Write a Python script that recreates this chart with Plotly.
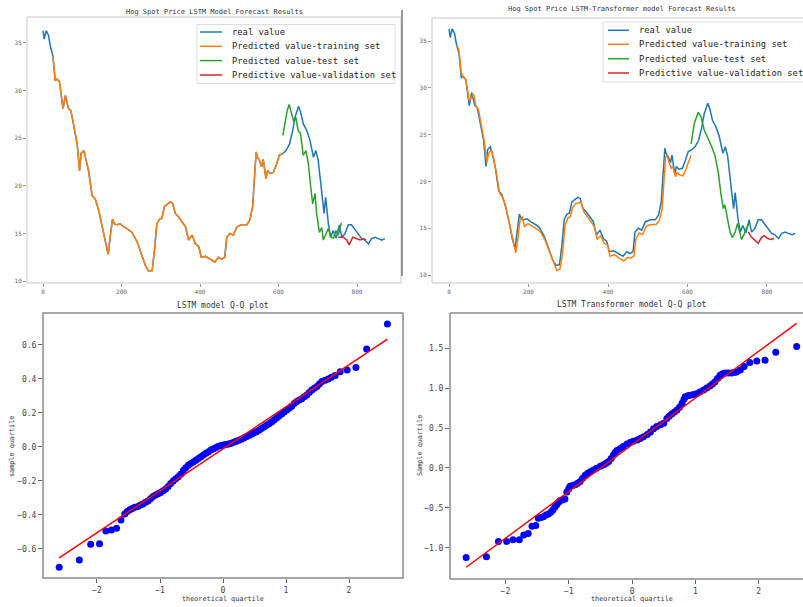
import plotly.graph_objects as go

W, H = 803, 607

# ---------------- data ----------------
real_x = [0, 3, 8, 14, 19, 25, 31, 36, 42, 51, 57, 65, 71, 78, 87, 93, 97, 104, 110, 116,
          125, 133, 142, 153, 159, 166, 171, 177, 182, 188, 197, 205, 214, 227, 240, 252,
          261, 269, 278, 284, 290, 297, 303, 309, 316, 324, 330, 337, 346, 354, 363, 371,
          380, 388, 397, 403, 414, 426, 438, 447, 455, 463, 468, 476, 485, 494, 506, 519,
          527, 534, 538, 543, 546, 551, 557, 561, 568, 572, 578, 587, 595, 602, 611, 619,
          628, 636, 642, 651, 656, 663, 672, 680, 689, 695, 701, 710, 716, 720, 727, 733,
          739, 747, 755, 761, 769, 778, 786, 795, 803, 812, 820, 829, 837, 846, 854, 863, 871]
real_y = [36.3, 35.4, 36.3, 35.8, 34.6, 33.7, 31.1, 31.2, 30.9, 28.1, 29.5, 28.1, 27.9, 26.5,
          24.4, 21.6, 23.4, 23.7, 22.8, 21.6, 19.0, 18.6, 17.4, 15.3, 13.9, 12.8, 14.6, 16.5,
          16.0, 15.9, 16.0, 15.7, 15.5, 15.1, 14.1, 12.7, 11.6, 11.05, 11.1, 13.2, 16.0, 16.5,
          16.6, 17.8, 18.0, 18.3, 18.2, 17.1, 16.7, 16.2, 15.7, 14.3, 14.8, 13.9, 13.6, 12.5,
          12.6, 12.3, 12.0, 12.5, 12.3, 12.5, 14.6, 15.0, 14.8, 15.7, 15.9, 15.9, 16.4, 17.8,
          20.9, 23.55, 23.0, 22.7, 22.0, 22.8, 20.75, 21.6, 21.3, 21.4, 22.3, 23.2, 23.4, 23.7,
          24.4, 25.8, 27.2, 28.35, 27.8, 26.5, 25.8, 24.8, 23.0, 23.7, 22.7, 19.5, 17.1, 18.8,
          16.0, 14.6, 15.3, 14.5, 15.9, 14.6, 14.95, 15.9, 15.9, 15.4, 15.0, 14.45, 14.3, 13.9,
          14.45, 14.6, 14.45, 14.3, 14.45]

lstm_train_x = [25, 31, 36, 42, 51, 57, 65, 71, 78, 87, 93, 97, 104, 110, 116, 125, 133, 142,
                153, 159, 166, 171, 177, 182, 188, 197, 205, 214, 227, 240, 252, 261, 269, 278,
                284, 290, 297, 303, 309, 316, 324, 330, 337, 346, 354, 363, 371, 380, 388, 397,
                403, 414, 426, 438, 447, 455, 463, 468, 476, 485, 494, 506, 519, 527, 534, 538,
                543, 546, 551, 557, 561, 568, 572, 578, 587, 595, 602, 611]
lstm_train_y = [33.7, 31.1, 31.2, 30.9, 28.1, 29.5, 28.1, 27.9, 26.5, 24.4, 21.6, 23.4, 23.7,
                22.8, 21.6, 19.0, 18.6, 17.4, 15.3, 13.9, 12.8, 14.6, 16.5, 16.0, 15.9, 16.0,
                15.7, 15.5, 15.1, 14.1, 12.7, 11.6, 11.05, 11.1, 13.2, 16.0, 16.5, 16.6, 17.8,
                18.0, 18.3, 18.2, 17.1, 16.7, 16.2, 15.7, 14.3, 14.8, 13.9, 13.6, 12.5, 12.6,
                12.3, 12.0, 12.5, 12.3, 12.5, 14.6, 15.0, 14.8, 15.7, 15.9, 15.9, 16.4, 17.8,
                20.9, 23.55, 23.0, 22.7, 22.0, 22.8, 20.75, 21.6, 21.3, 21.4, 22.3, 23.2, 23.4]
lstm_test_x = [611, 616, 622, 627, 634, 639, 644, 650, 656, 663, 670, 676, 682, 687, 693, 697,
               704, 710, 714, 721, 727, 733, 740, 746, 752, 760]
lstm_test_y = [25.3, 26.5, 27.9, 28.55, 27.6, 26.7, 27.2, 25.8, 25.5, 23.2, 23.7, 22.3, 19.9,
               18.1, 19.2, 17.1, 15.1, 15.6, 14.3, 15.0, 15.5, 14.6, 14.5, 15.3, 14.8, 16.1]
lstm_val_x = [752, 765, 774, 780, 789, 799, 808, 816, 823]
lstm_val_y = [14.6, 14.6, 14.3, 13.8, 14.6, 14.45, 14.3, 14.45, 14.3]

trans_train_x = [20, 25, 31, 36, 42, 51, 57, 62, 68, 74, 80, 89, 95, 100, 106, 112, 118, 127,
                 135, 144, 155, 161, 168, 173, 179, 184, 190, 199, 207, 216, 229, 242, 254, 263,
                 271, 279, 286, 292, 299, 305, 311, 318, 326, 332, 339, 348, 356, 365, 373, 382,
                 390, 399, 405, 416, 428, 440, 449, 457, 465, 470, 478, 487, 496, 508, 521, 529,
                 536, 540, 545, 549, 553, 559, 563, 570, 574, 580, 589, 597, 604, 609]
trans_train_y = [34.6, 34.0, 31.6, 31.1, 30.9, 28.6, 29.0, 29.3, 28.0, 27.7, 26.3, 24.2, 22.0,
                 23.0, 23.4, 22.5, 21.2, 18.8, 18.3, 17.0, 14.9, 13.6, 12.4, 13.8, 16.0, 16.2,
                 15.2, 15.5, 15.3, 15.1, 14.7, 13.7, 12.3, 11.2, 10.5, 10.6, 12.4, 15.3, 16.1,
                 16.2, 17.2, 17.6, 17.7, 17.8, 16.8, 16.2, 15.8, 15.2, 13.8, 14.2, 13.4, 13.2,
                 12.0, 12.2, 11.8, 11.5, 11.9, 11.8, 12.0, 13.8, 14.5, 14.3, 15.2, 15.4, 15.4,
                 15.8, 17.0, 19.5, 22.6, 22.8, 22.1, 21.4, 21.6, 20.5, 21.0, 20.7, 20.6, 21.4,
                 22.2, 22.8]
trans_test_x = [609, 617, 627, 634, 642, 652, 661, 669, 678, 684, 690, 694, 700, 707, 713, 720,
                726, 732, 736, 743, 749, 755]
trans_test_y = [24.0, 26.2, 27.4, 26.9, 25.5, 24.6, 23.7, 22.8, 20.8, 18.7, 17.1, 17.5, 16.2,
                14.6, 14.0, 14.6, 15.5, 14.6, 13.8, 14.4, 15.1, 15.5]
trans_val_x = [753, 761, 770, 778, 787, 793, 802, 810, 818]
trans_val_y = [14.6, 14.05, 13.7, 13.4, 14.05, 14.2, 13.9, 13.8, 13.9]

series_names = ["real value", "Predicted value-training set",
                "Predicted value-test set", "Predictive value-validation set"]

qq_lstm_theo = [-2.60, -2.28, -2.10, -1.96, -1.86, -1.77, -1.69, -1.62, -1.56, -1.52, -1.48,
                -1.44, -1.40, -1.35, -1.31, -1.27, -1.23, -1.19, -1.15, -1.11, -1.07, -1.03,
                -0.99, -0.95, -0.91, -0.87, -0.83, -0.79, -0.75, -0.71, -0.67, -0.63, -0.59,
                -0.55, -0.51, -0.47, -0.43, -0.39, -0.35, -0.31, -0.27, -0.23, -0.19, -0.15,
                -0.11, -0.07, -0.03, 0.01, 0.05, 0.09, 0.13, 0.17, 0.21, 0.25, 0.29, 0.33, 0.37,
                0.41, 0.45, 0.49, 0.53, 0.57, 0.61, 0.65, 0.69, 0.73, 0.77, 0.81, 0.85, 0.89,
                0.93, 0.97, 1.01, 1.05, 1.09, 1.13, 1.17, 1.21, 1.25, 1.29, 1.33, 1.37, 1.41,
                1.45, 1.49, 1.53, 1.57, 1.62, 1.67, 1.72, 1.78, 1.86, 1.97, 2.11, 2.28, 2.61]
qq_lstm_sample = [-0.708, -0.665, -0.573, -0.570, -0.494, -0.488, -0.478, -0.430, -0.394,
                  -0.380, -0.370, -0.362, -0.355, -0.350, -0.342, -0.335, -0.325, -0.318,
                  -0.305, -0.292, -0.283, -0.275, -0.268, -0.258, -0.247, -0.232, -0.215,
                  -0.200, -0.187, -0.175, -0.160, -0.138, -0.122, -0.108, -0.098, -0.088,
                  -0.078, -0.068, -0.058, -0.047, -0.037, -0.028, -0.018, -0.010, -0.003,
                  0.004, 0.008, 0.012, 0.015, 0.018, 0.022, 0.027, 0.033, 0.040, 0.046, 0.053,
                  0.060, 0.067, 0.074, 0.082, 0.090, 0.098, 0.108, 0.118, 0.127, 0.137, 0.147,
                  0.158, 0.170, 0.182, 0.194, 0.205, 0.217, 0.228, 0.240, 0.255, 0.268, 0.276,
                  0.283, 0.295, 0.306, 0.320, 0.335, 0.345, 0.355, 0.370, 0.385, 0.393, 0.400,
                  0.410, 0.420, 0.443, 0.453, 0.467, 0.576, 0.724]
qq_lstm_slope, qq_lstm_intercept = 0.247, -0.011

qq_trans_theo = [-2.62, -2.30, -2.11, -1.98, -1.88, -1.78, -1.71, -1.64, -1.58, -1.52, -1.48,
                 -1.44, -1.40, -1.36, -1.32, -1.28, -1.25, -1.22, -1.19, -1.16, -1.14, -1.10,
                 -1.06, -1.03, -1.00, -0.98, -0.94, -0.90, -0.86, -0.82, -0.78, -0.74, -0.70,
                 -0.66, -0.61, -0.56, -0.50, -0.45, -0.41, -0.37, -0.33, -0.295, -0.27, -0.24,
                 -0.19, -0.14, -0.08, -0.03, 0.02, 0.08, 0.13, 0.18, 0.24, 0.29, 0.34, 0.39,
                 0.45, 0.50, 0.55, 0.59, 0.63, 0.67, 0.71, 0.75, 0.79, 0.82, 0.84, 0.88, 0.92,
                 0.97, 1.02, 1.07, 1.13, 1.18, 1.23, 1.27, 1.31, 1.35, 1.39, 1.43, 1.47, 1.52,
                 1.57, 1.61, 1.65, 1.71, 1.77, 1.86, 1.97, 2.10, 2.27, 2.60]
qq_trans_sample = [-1.12, -1.11, -0.92, -0.92, -0.90, -0.90, -0.84, -0.82, -0.73, -0.72, -0.63,
                   -0.62, -0.61, -0.59, -0.575, -0.55, -0.525, -0.49, -0.46, -0.43, -0.41,
                   -0.40, -0.39, -0.30, -0.26, -0.23, -0.22, -0.21, -0.19, -0.17, -0.13, -0.09,
                   -0.065, -0.046, -0.025, -0.004, 0.02, 0.04, 0.06, 0.08, 0.12, 0.16, 0.19,
                   0.22, 0.24, 0.27, 0.30, 0.32, 0.335, 0.35, 0.37, 0.39, 0.42, 0.45, 0.49,
                   0.52, 0.54, 0.56, 0.62, 0.65, 0.68, 0.70, 0.725, 0.76, 0.81, 0.86, 0.89,
                   0.905, 0.91, 0.92, 0.93, 0.95, 0.975, 1.00, 1.025, 1.05, 1.08, 1.12, 1.16,
                   1.18, 1.19, 1.19, 1.19, 1.195, 1.20, 1.225, 1.27, 1.32, 1.34, 1.35, 1.45, 1.52]
qq_trans_slope, qq_trans_intercept = 0.585, 0.29

# ---------------- styling ----------------
BLUE, ORANGE, GREEN, RED = "#1f77b4", "#ff7f0e", "#2ca02c", "#d62728"
MONO = "DejaVu Sans Mono"


def px(x):
    return x / W


def py(y):
    return 1 - y / H


fig = go.Figure()

# top-left: LSTM
for xs, ys, c in [(real_x, real_y, BLUE), (lstm_train_x, lstm_train_y, ORANGE),
                  (lstm_test_x, lstm_test_y, GREEN), (lstm_val_x, lstm_val_y, RED)]:
    fig.add_trace(go.Scatter(x=xs, y=ys, mode="lines", line=dict(color=c, width=1.5),
                             xaxis="x", yaxis="y", showlegend=False, hoverinfo="skip"))
# top-right: LSTM-Transformer
for xs, ys, c in [(real_x, real_y, BLUE), (trans_train_x, trans_train_y, ORANGE),
                  (trans_test_x, trans_test_y, GREEN), (trans_val_x, trans_val_y, RED)]:
    fig.add_trace(go.Scatter(x=xs, y=ys, mode="lines", line=dict(color=c, width=1.5),
                             xaxis="x2", yaxis="y2", showlegend=False, hoverinfo="skip"))

# Q-Q plots
for theo, samp, slope, icpt, xa, ya in [
        (qq_lstm_theo, qq_lstm_sample, qq_lstm_slope, qq_lstm_intercept, "x3", "y3"),
        (qq_trans_theo, qq_trans_sample, qq_trans_slope, qq_trans_intercept, "x4", "y4")]:
    fig.add_trace(go.Scatter(x=theo, y=samp, mode="markers",
                             marker=dict(color="#0000ff", size=7, line=dict(width=0)),
                             xaxis=xa, yaxis=ya, showlegend=False))
    lx = [min(theo), max(theo)]
    fig.add_trace(go.Scatter(x=lx, y=[slope * v + icpt for v in lx], mode="lines",
                             line=dict(color="#ff0000", width=1.5),
                             xaxis=xa, yaxis=ya, showlegend=False))

top_tick = dict(showgrid=False, zeroline=False, showline=False, ticks="outside", ticklen=3,
                tickcolor="#999", tickwidth=1, tickfont=dict(family=MONO, size=6, color="#666"))
bot_tick = dict(showgrid=False, zeroline=False, showline=False, ticks="outside", ticklen=4,
                tickcolor="#666", tickwidth=1, tickfont=dict(family=MONO, size=8, color="#444"))

fig.update_layout(
    width=W, height=H, autosize=False,
    margin=dict(l=0, r=0, t=0, b=0, pad=0),
    paper_bgcolor="white", plot_bgcolor="white",
    xaxis=dict(domain=[px(27), px(401)], range=[-40.8, 912], anchor="y",
               tickvals=[0, 200, 400, 600, 800], **top_tick),
    yaxis=dict(domain=[py(283), py(17)], range=[9.79, 37.73], anchor="x",
               tickvals=[10, 15, 20, 25, 30, 35], **top_tick),
    xaxis2=dict(domain=[px(432), 1], range=[-42.8, 890.6], anchor="y2",
                tickvals=[0, 200, 400, 600, 800], **top_tick),
    yaxis2=dict(domain=[py(283), py(18)], range=[9.15, 37.46], anchor="x2",
                tickvals=[10, 15, 20, 25, 30, 35], **top_tick),
    xaxis3=dict(domain=[px(43), px(403)], range=[-2.857, 2.857], anchor="y3",
                tickvals=[-2, -1, 0, 1, 2], **bot_tick),
    yaxis3=dict(domain=[py(578), py(313)], range=[-0.771, 0.788], anchor="x3",
                tickvals=[-0.6, -0.4, -0.2, 0.0, 0.2, 0.4, 0.6], tickformat=".1f", **bot_tick),
    xaxis4=dict(domain=[px(450), 1], range=[-2.875, 2.70], anchor="y4",
                tickvals=[-2, -1, 0, 1, 2], **bot_tick),
    yaxis4=dict(domain=[py(579), py(313)], range=[-1.39, 1.94], anchor="x4",
                tickvals=[-1.0, -0.5, 0.0, 0.5, 1.0, 1.5], tickformat=".1f", **bot_tick),
)

shapes = []
# frames
shapes.append(dict(type="rect", xref="x domain", yref="y domain", x0=0, x1=1, y0=0, y1=1,
                   line=dict(color="#c8c8c8", width=1)))
shapes.append(dict(type="line", xref="paper", yref="paper", x0=px(402), x1=px(402),
                   y0=py(10), y1=py(276), line=dict(color="#777", width=1.5)))
for (a, b, c, d) in [(0, 0, 0, 1), (0, 1, 1, 1), (0, 0, 1, 0)]:
    shapes.append(dict(type="line", xref="x2 domain", yref="y2 domain", x0=a, y0=b, x1=c, y1=d,
                       line=dict(color="#c8c8c8", width=1)))
shapes.append(dict(type="rect", xref="x3 domain", yref="y3 domain", x0=0, x1=1, y0=0, y1=1,
                   line=dict(color="#8a8a8a", width=1.5)))
for (a, b, c, d) in [(0, 0, 0, 1), (0, 1, 1, 1), (0, 0, 1, 0)]:
    shapes.append(dict(type="line", xref="x4 domain", yref="y4 domain", x0=a, y0=b, x1=c, y1=d,
                       line=dict(color="#8a8a8a", width=1.5)))

annotations = []
colors = [BLUE, ORANGE, GREEN, RED]
# legends (drawn as boxes)
for bx0, bx1, by0, by1, lx0, lx1, tx, rows in [
        (197, 395, 24.5, 83.5, 200, 222, 230, [32, 46.3, 60.6, 75]),
        (603, 812, 22, 82, 608, 629, 637, [30.3, 44.3, 58.7, 73])]:
    shapes.append(dict(type="rect", xref="paper", yref="paper", x0=px(bx0), x1=px(bx1),
                       y0=py(by1), y1=py(by0), fillcolor="rgba(255,255,255,0.85)",
                       line=dict(color="#dddddd", width=1), layer="above"))
    for name, col, ry in zip(series_names, colors, rows):
        shapes.append(dict(type="line", xref="paper", yref="paper", x0=px(lx0), x1=px(lx1),
                           y0=py(ry), y1=py(ry), line=dict(color=col, width=1.5),
                           layer="above"))
        annotations.append(dict(text=name, xref="paper", yref="paper", x=px(tx), y=py(ry),
                                xanchor="left", yanchor="middle", showarrow=False,
                                font=dict(family=MONO, size=8.8, color="#222")))

# titles and labels
for text, x, y, size, angle in [
        ("Hog Spot Price LSTM Model Forecast Results", 214, 12, 7, 0),
        ("Hog Spot Price LSTM-Transformer model Forecast Results", 622, 9.5, 7, 0),
        ("LSTM model Q-Q plot", 223, 305, 8, 0),
        ("LSTM Transformer model Q-Q plot", 631, 304.5, 8, 0),
        ("theoretical quartile", 223, 599, 6.8, 0),
        ("theoretical quartile", 632, 598.5, 6.8, 0),
        ("sample quartile", 12, 447, 6.8, -90),
        ("Sample quartile", 420, 446, 6.8, -90)]:
    annotations.append(dict(text=text, xref="paper", yref="paper", x=px(x), y=py(y),
                            xanchor="center", yanchor="middle", showarrow=False, textangle=angle,
                            font=dict(family=MONO, size=size, color="#333")))

fig.update_layout(shapes=shapes, annotations=annotations)

fig.write_html("out.html", config={"displayModeBar": False},
               post_script="document.body.style.margin='0';document.body.style.overflow='hidden';")
